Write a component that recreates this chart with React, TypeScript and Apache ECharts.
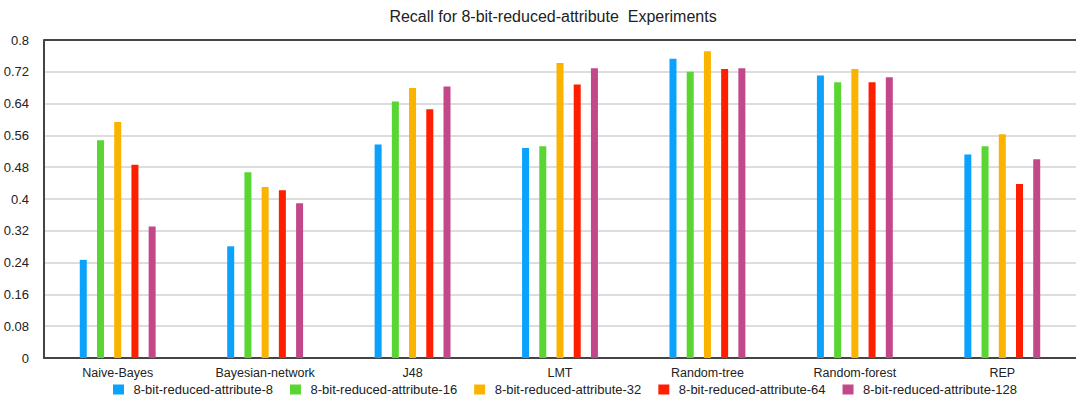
import React, { useEffect, useRef } from "react";
import * as echarts from "echarts";

const categories = ["Naive-Bayes", "Bayesian-network", "J48", "LMT", "Random-tree", "Random-forest", "REP"];
const seriesNames = [
  "8-bit-reduced-attribute-8",
  "8-bit-reduced-attribute-16",
  "8-bit-reduced-attribute-32",
  "8-bit-reduced-attribute-64",
  "8-bit-reduced-attribute-128",
];
const attr8 = [0.247, 0.281, 0.537, 0.528, 0.753, 0.711, 0.512];
const attr16 = [0.548, 0.467, 0.645, 0.533, 0.72, 0.694, 0.533];
const attr32 = [0.594, 0.43, 0.679, 0.742, 0.772, 0.727, 0.563];
const attr64 = [0.486, 0.422, 0.626, 0.688, 0.727, 0.694, 0.438];
const attr128 = [0.331, 0.389, 0.683, 0.729, 0.729, 0.706, 0.5];
const seriesValues = [attr8, attr16, attr32, attr64, attr128];
const colors = ["#0AA2FC", "#5AD632", "#FAB400", "#FF1E00", "#C2488A"];

const FONT = "'Liberation Sans', Arial, Helvetica, sans-serif";

export default function App() {
  const ref = useRef<HTMLDivElement>(null);
  useEffect(() => {
    if (!ref.current) return;
    const chart = echarts.init(ref.current, undefined, { renderer: "svg" });
    chart.setOption({
      animation: false,
      backgroundColor: "#ffffff",
      title: {
        text: "Recall for 8-bit-reduced-attribute  Experiments",
        left: 553,
        textAlign: "center",
        top: 8,
        padding: 0,
        textStyle: { fontFamily: FONT, fontSize: 16, fontWeight: "normal", color: "#222" },
      },
      legend: {
        data: seriesNames,
        left: 113,
        top: 383,
        padding: 0,
        itemWidth: 11,
        itemHeight: 10,
        itemGap: 17,
        icon: "rect",
        textStyle: { fontFamily: FONT, fontSize: 13, color: "#222", padding: [0, 0, 0, 4.5] },
      },
      grid: { left: 44, right: 0, top: 40, bottom: 38, containLabel: false },
      xAxis: {
        type: "category",
        data: categories,
        axisTick: { show: false },
        axisLine: { show: true, lineStyle: { color: "#444", width: 2 } },
        axisLabel: { fontFamily: FONT, fontSize: 12.5, color: "#222", margin: 8, interval: 0 },
        splitLine: { show: false },
      },
      yAxis: {
        type: "value",
        min: 0,
        max: 0.8,
        interval: 0.08,
        axisLine: { show: true, lineStyle: { color: "#444", width: 2 } },
        axisTick: { show: false },
        axisLabel: {
          fontFamily: FONT,
          fontSize: 13,
          color: "#222",
          margin: 15,
          formatter: (v: number) => String(parseFloat(v.toFixed(2))),
        },
        splitLine: { show: true, lineStyle: { color: "#d2d2d2", width: 1.5 } },
      },
      graphic: [
        {
          type: "line",
          shape: { x1: 44, y1: 40, x2: 1076, y2: 40 },
          style: { stroke: "#444", lineWidth: 2 },
          z: 10,
        },
      ],
      series: seriesNames.map((name, i) => ({
        name,
        type: "bar",
        data: seriesValues[i],
        barWidth: 7,
        barGap: "146%",
        itemStyle: { color: colors[i] },
      })),
    });
    return () => chart.dispose();
  }, []);
  return (
    <div
      ref={ref}
      style={{ position: "fixed", left: 0, top: 0, width: 1076, height: 396, background: "#fff" }}
    />
  );
}
